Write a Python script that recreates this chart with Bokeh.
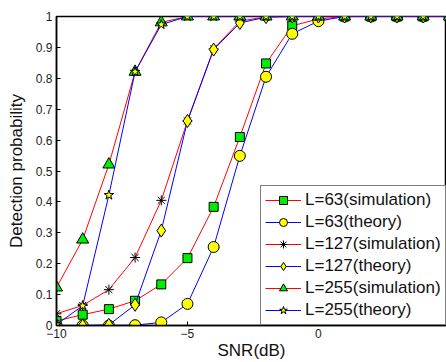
from bokeh.plotting import figure
from bokeh.embed import file_html
from bokeh.resources import INLINE
from bokeh.models import Range1d, FixedTicker, Legend

snr = [-10, -9, -8, -7, -6, -5, -4, -3, -2, -1, 0, 1, 2, 3, 4, 5]
l63_sim = [0.015, 0.035, 0.053, 0.080, 0.133, 0.218, 0.384, 0.610, 0.848, 0.970, 0.992, 1, 1, 1, 1, 1]
l63_th = [0.0, 0.0, 0.0, 0.001, 0.010, 0.070, 0.254, 0.549, 0.805, 0.944, 0.985, 1, 1, 1, 1, 1]
l127_sim = [0.038, 0.065, 0.116, 0.220, 0.405, 0.662, 0.895, 0.985, 0.999, 1, 1, 1, 1, 1, 1, 1]
l127_th = [0.0, 0.0, 0.002, 0.067, 0.307, 0.662, 0.893, 0.979, 0.998, 1, 1, 1, 1, 1, 1, 1]
l255_sim = [0.123, 0.278, 0.521, 0.821, 0.981, 1, 1, 1, 1, 1, 1, 1, 1, 1, 1, 1]
l255_th = [0.003, 0.064, 0.422, 0.821, 0.974, 1, 1, 1, 1, 1, 1, 1, 1, 1, 1, 1]

labels = ["L=63(simulation)", "L=63(theory)", "L=127(simulation)",
          "L=127(theory)", "L=255(simulation)", "L=255(theory)"]
y_ticks = [0, 0.1, 0.2, 0.3, 0.4, 0.5, 0.6, 0.7, 0.8, 0.9, 1]
y_tick_labels = ["0", "0.1", "0.2", "0.3", "0.4", "0.5", "0.6", "0.7", "0.8", "0.9", "1"]
x_ticks = [-10, -5, 0, 5]

FONT = "Liberation Sans"

p = figure(width=446, height=362, output_backend="svg", toolbar_location=None,
           x_range=Range1d(-10, 4.89), y_range=Range1d(0, 1),
           min_border_left=56, min_border_right=0, min_border_top=16, min_border_bottom=37)
p.background_fill_color = "white"
p.border_fill_color = "white"
p.outline_line_color = "black"
p.outline_line_width = 1.5
p.grid.visible = False

p.xaxis.ticker = FixedTicker(ticks=x_ticks)
p.yaxis.ticker = FixedTicker(ticks=y_ticks)
p.yaxis.major_label_overrides = {t: s for t, s in zip(y_ticks, y_tick_labels)}
for ax in (p.xaxis[0], p.yaxis[0]):
    ax.major_tick_in = 4
    ax.major_tick_out = 0
    ax.minor_tick_line_color = None
    ax.axis_line_color = "black"
    ax.axis_line_width = 1.5
    ax.major_label_text_font = FONT
    ax.major_label_text_font_size = "12px"
    ax.major_label_text_color = "#222222"
    ax.axis_label_text_font = FONT
    ax.axis_label_text_font_style = "normal"
    ax.axis_label_text_font_size = "17px"
    ax.axis_label_text_color = "#111111"
p.xaxis.axis_label = "SNR(dB)"
p.yaxis.axis_label = "Detection probability"
p.xaxis.axis_label_standoff = 0
p.yaxis.axis_label_standoff = 7
p.xaxis.major_label_standoff = 3
p.yaxis.major_label_standoff = 4

series = [
    (l63_sim, "red", "square", "#00ee00", 9),
    (l63_th, "blue", "circle", "yellow", 11),
    (l127_sim, "red", "asterisk", "black", 10),
    (l127_th, "blue", "diamond", "yellow", 13),
    (l255_sim, "red", "triangle", "#00ee00", 12),
    (l255_th, "blue", "star", "yellow", 10),
]

items = []
for (ys, lc, mk, fc, sz), lab in zip(series, labels):
    r1 = p.line(snr, ys, line_color=lc, line_width=1)
    if mk == "asterisk":
        r2 = p.scatter(snr, ys, marker=mk, size=sz, line_color="black", line_width=1)
    else:
        r2 = p.scatter(snr, ys, marker=mk, size=sz, fill_color=fc, line_color="black", line_width=1)
    items.append((lab, [r1, r2]))

legend = Legend(items=items, location=(204, 0))
legend.label_text_font = FONT
legend.label_text_font_size = "17px"
legend.label_text_color = "#111111"
legend.glyph_width = 36
legend.glyph_height = 20
legend.label_height = 20
legend.spacing = 2
legend.padding = 4
legend.margin = 0
legend.label_standoff = 4
legend.border_line_color = "black"
legend.border_line_width = 1.5
legend.background_fill_alpha = 1
p.add_layout(legend, "center")

open("out.html", "w").write(file_html(p, INLINE))
